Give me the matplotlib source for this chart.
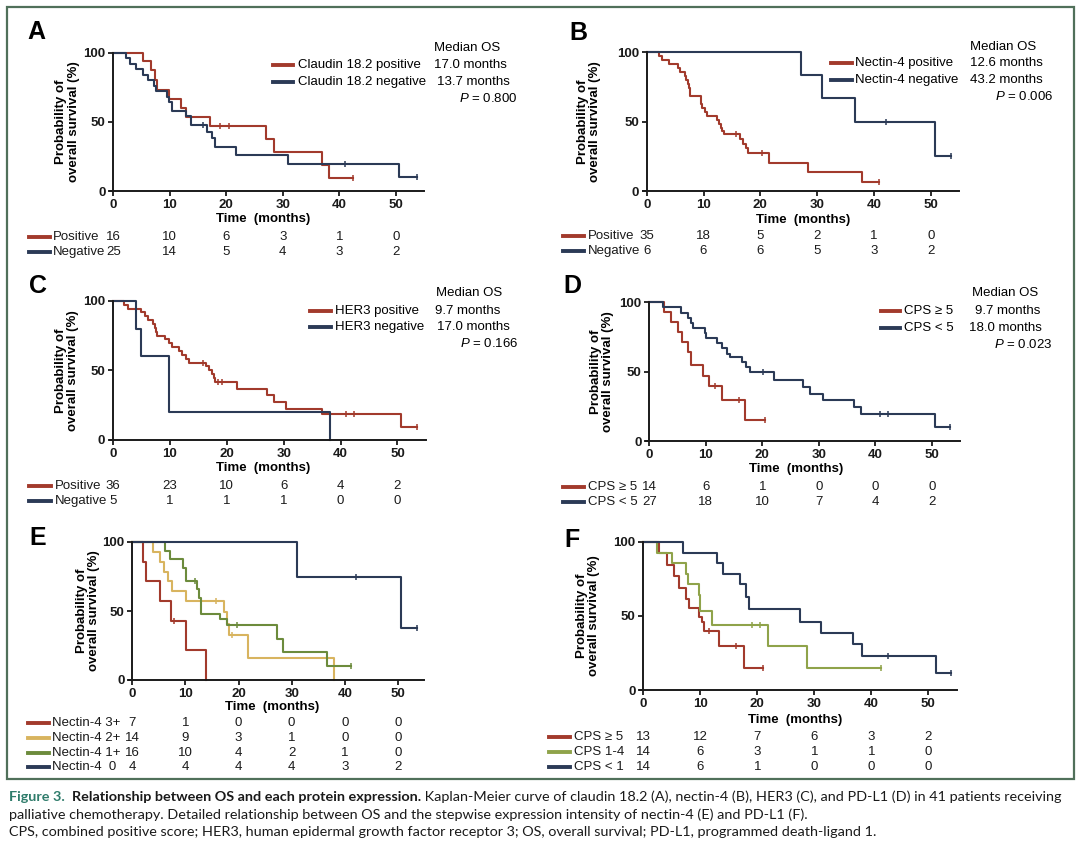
import numpy as np
import matplotlib
matplotlib.use("Agg")
import matplotlib.pyplot as plt
import matplotlib.transforms as mtransforms
from matplotlib.patches import Rectangle

plt.rcParams["font.family"] = ["Liberation Sans", "DejaVu Sans"]
plt.rcParams["mathtext.fontset"] = "custom"
plt.rcParams["mathtext.it"] = "Liberation Sans:italic"
plt.rcParams["mathtext.rm"] = "Liberation Sans"

RED = "#a23a2c"
BLUE = "#2b3a56"
YELLOW = "#d8b45f"
GREEN_E = "#6c8b3c"
GREEN_F = "#8fa34a"
FRAME = "#50705a"
TEAL = "#2f7c6b"

# ---- data (time in months, survival in %) ----
risk_times = [0, 10, 20, 30, 40, 50]

# A: claudin 18.2
a_pos_t = [5.2, 6.6, 7.3, 7.8, 9.8, 11.9, 12.8, 17.2, 27.1, 28.4, 36.9, 38.1]
a_pos_s = [93.8, 87.5, 80.0, 73.3, 66.7, 60.0, 53.3, 46.7, 37.3, 28.0, 18.7, 9.3]
a_pos_end = 42.4
a_pos_cens = [18.9, 20.4, 42.4]
a_neg_t = [2.3, 2.9, 4.0, 5.2, 6.2, 7.2, 7.5, 9.5, 9.8, 10.4, 12.8, 13.7, 16.6, 17.5, 18.0, 21.8, 31.0, 50.6]
a_neg_s = [96, 92, 88, 84, 80, 76, 72, 68, 64, 58, 54, 48, 43, 38, 32, 26, 19.6, 9.8]
a_neg_end = 53.7
a_neg_cens = [15.9, 41.0, 53.7]
a_risk = [[16, 10, 6, 3, 1, 0], [25, 14, 5, 4, 3, 2]]

# B: nectin-4
b_pos_t = [2.1, 2.7, 3.9, 5.5, 5.9, 6.7, 7.0, 7.3, 7.5, 7.6, 7.7, 9.6, 9.7, 10.3, 10.6, 12.3, 12.7,
           13.0, 13.3, 13.6, 16.5, 17.0, 17.5, 17.9, 21.5, 28.4, 37.9]
b_pos_s = [97.1, 94.3, 91.4, 88.6, 85.7, 82.9, 80.0, 77.1, 74.3, 71.4, 68.6, 62.9, 60.0, 57.1, 54.3,
           51.4, 48.6, 45.7, 42.9, 40.9, 37.5, 34.1, 30.7, 27.3, 20.4, 13.6, 6.8]
b_pos_end = 40.9
b_pos_cens = [15.8, 20.3, 40.9]
b_neg_t = [27.1, 30.9, 36.7, 50.8]
b_neg_s = [83.3, 66.7, 50.0, 25.0]
b_neg_end = 53.5
b_neg_cens = [42.1, 53.5]
b_risk = [[35, 18, 5, 2, 1, 0], [6, 6, 6, 5, 3, 2]]

# C: HER3
c_pos_t = [1.9, 2.7, 5.0, 5.6, 6.2, 7.0, 7.3, 7.5, 7.7, 9.2, 9.8, 10.4, 11.6, 12.2, 12.8, 13.4, 16.3,
           16.8, 17.4, 17.7, 18.0, 21.8, 27.1, 28.3, 30.4, 36.8, 50.7]
c_pos_s = [97.2, 94.4, 91.7, 88.9, 86.1, 83.3, 80.6, 77.8, 75.0, 72.2, 69.4, 66.7, 63.9, 61.1, 58.3,
           55.6, 52.8, 50.0, 47.2, 44.4, 41.7, 36.9, 32.1, 27.4, 22.6, 18.8, 9.4]
c_pos_end = 53.5
c_pos_cens = [15.9, 18.4, 19.2, 41.0, 42.4, 53.5]
c_neg_t = [4.1, 5.0, 9.8, 38.1]
c_neg_s = [80, 60, 20, 0]
c_neg_end = 38.1
c_neg_cens = []
c_risk = [[36, 23, 10, 6, 4, 2], [5, 1, 1, 1, 0, 0]]

# D: PD-L1 (CPS 5 cut-off)
d_hi_t = [2.6, 3.8, 5.0, 5.7, 6.8, 7.4, 9.5, 10.5, 12.9, 17.0]
d_hi_s = [92.9, 85.7, 78.6, 71.4, 64.3, 55.0, 47.1, 39.3, 29.5, 14.8]
d_hi_end = 20.5
d_hi_cens = [11.7, 15.9, 20.5]
d_lo_t = [2.5, 5.6, 6.8, 7.4, 7.7, 9.8, 10.0, 12.0, 12.9, 13.8, 14.3, 16.4, 17.2, 17.8, 22.0, 27.2,
          28.4, 30.7, 36.3, 37.5, 50.6]
d_lo_s = [96.3, 92.6, 88.9, 85.2, 81.5, 77.8, 74.1, 70.4, 66.7, 63.0, 60.6, 56.9, 53.2, 49.5, 44.3,
          39.1, 33.9, 29.5, 24.6, 19.7, 9.8]
d_lo_end = 53.3
d_lo_cens = [20.2, 40.9, 42.2, 53.3]
d_risk = [[14, 6, 1, 0, 0, 0], [27, 18, 10, 7, 4, 2]]

# E: nectin-4 intensity
e_3_t = [2.1, 2.6, 5.2, 7.3, 10.1, 13.8]
e_3_s = [85.7, 71.4, 57.1, 42.9, 21.4, 0]
e_3_end = 13.8
e_3_cens = [7.9]
e_2_t = [3.9, 5.2, 6.0, 6.8, 7.5, 10.1, 17.2, 17.9, 18.2, 21.8, 38.0]
e_2_s = [92.9, 85.7, 78.6, 71.4, 64.3, 57.1, 49.0, 40.8, 32.7, 16.3, 0]
e_2_end = 38.0
e_2_cens = [15.7, 18.8]
e_1_t = [6.2, 7.1, 9.6, 10.1, 12.2, 12.6, 13.0, 16.6, 17.9, 27.3, 28.4, 36.7]
e_1_s = [93.8, 87.5, 81.3, 71.9, 65.6, 59.4, 48.0, 44.0, 40.0, 30.0, 20.0, 10.0]
e_1_end = 41.1
e_1_cens = [11.9, 19.8, 41.1]
e_0_t = [31.0, 50.6]
e_0_s = [75.0, 37.5]
e_0_end = 53.6
e_0_cens = [42.2, 53.6]
e_risk = [[7, 1, 0, 0, 0, 0], [14, 9, 3, 1, 0, 0], [16, 10, 4, 2, 1, 0], [4, 4, 4, 4, 3, 2]]

# F: PD-L1 three groups
f_hi_t = [2.7, 4.2, 5.4, 6.3, 7.5, 8.0, 9.8, 10.3, 10.6, 13.3, 17.7]
f_hi_s = [92.3, 84.6, 76.9, 69.2, 61.5, 55.4, 49.2, 46.2, 40.0, 30.0, 15.0]
f_hi_end = 21.0
f_hi_cens = [11.6, 16.3, 21.0]
f_mid_t = [2.4, 5.1, 7.5, 7.9, 9.8, 10.0, 12.1, 21.9, 28.7]
f_mid_s = [92.9, 85.7, 78.6, 71.4, 64.3, 53.6, 44.2, 29.5, 14.7]
f_mid_end = 41.7
f_mid_cens = [19.0, 20.5, 41.7]
f_lo_t = [7.0, 13.0, 13.9, 16.9, 18.1, 18.5, 27.5, 31.1, 36.8, 38.3, 51.3]
f_lo_s = [92.9, 85.7, 78.6, 71.4, 63.0, 54.7, 46.2, 38.3, 30.8, 23.0, 11.5]
f_lo_end = 54.0
f_lo_cens = [42.9, 54.0]
f_risk = [[13, 12, 7, 6, 3, 2], [14, 6, 3, 1, 1, 0], [14, 6, 1, 0, 0, 0]]

W, H = 1080, 847
FS = 9.5

fig = plt.figure(figsize=(W / 100, H / 100), dpi=100)


def fx(px):
    return px / W


def fy(py):
    return 1 - py / H


def make_axes(x0, s10, ytop, ybot):
    # x0: pixel of month 0, s10: pixels per 10 months
    left = x0 - 0.06 * s10
    right = x0 + 5.5 * s10
    ax = fig.add_axes([fx(left), fy(ybot), (right - left) / W, (ybot - ytop) / H])
    ax.set_xlim(-0.6, 55)
    ax.set_ylim(0, 100)
    ax.patch.set_alpha(0)
    for s in ["top", "right"]:
        ax.spines[s].set_visible(False)
    ax.spines["left"].set_position(("data", 0))
    for s in ["left", "bottom"]:
        ax.spines[s].set_linewidth(1.4)
        ax.spines[s].set_color("#1a1a1a")
    ax.set_xticks(risk_times)
    ax.set_yticks([0, 50, 100])
    ax.tick_params(direction="out", length=3.5, width=1.3, pad=2, labelsize=FS, colors="#1a1a1a")
    for lab in ax.get_xticklabels() + ax.get_yticklabels():
        lab.set_fontweight("bold")
    return ax


def surv_at(t, times, surv):
    s = 100
    for ti, si in zip(times, surv):
        if t >= ti:
            s = si
    return s


def km(ax, times, surv, end, cens, color):
    xs = [0] + times + [end]
    ys = [100] + surv + [surv[-1]]
    ax.step(xs, ys, where="post", color=color, lw=1.5, clip_on=False)
    for c in cens:
        ax.plot(c, surv_at(c, times, surv), marker="|", ms=4.5, mew=1.1, color=color, clip_on=False)


def labels(ax, letter, lx, ly, ylab_x, xlab_x, xlab_y):
    fig.text(fx(lx), fy(ly), letter, fontsize=18, fontweight="bold", va="baseline", ha="left")
    yc = (ax.get_position().y0 + ax.get_position().y1) / 2
    fig.text(fx(ylab_x), yc, "Probability of\noverall survival (%)", rotation=90, ha="center",
             va="center", multialignment="center", fontsize=FS, fontweight="bold", linespacing=1.05)
    fig.text(fx(xlab_x), fy(xlab_y), "Time  (months)", ha="center", va="center",
             fontsize=FS, fontweight="bold")


def legend(names, colors, months, median_x, month_xs, line_x0, line_x1, text_x, rows_y, head_y, p_text, p_x, p_y):
    fig.text(fx(median_x), fy(head_y), "Median OS", fontsize=FS, va="center")
    for name, col, m, mx, ry in zip(names, colors, months, month_xs, rows_y):
        fig.add_artist(plt.Line2D([fx(line_x0), fx(line_x1)], [fy(ry), fy(ry)], color=col, lw=2.8,
                                  transform=fig.transFigure))
        fig.text(fx(text_x), fy(ry), name, fontsize=FS, va="center")
        fig.text(fx(mx), fy(ry), m, fontsize=FS, va="center")
    fig.text(fx(p_x), fy(p_y), p_text, fontsize=FS, va="center", ha="right")


def risk_table(ax, names, colors, counts, rows_y, line_x0, line_x1, text_x):
    tr = mtransforms.blended_transform_factory(ax.transData, fig.transFigure)
    for name, col, row, ry in zip(names, colors, counts, rows_y):
        fig.add_artist(plt.Line2D([fx(line_x0), fx(line_x1)], [fy(ry), fy(ry)], color=col, lw=2.8,
                                  transform=fig.transFigure))
        fig.text(fx(text_x), fy(ry), name, fontsize=FS, va="center", color="#1a1a1a")
        for t, n in zip(risk_times, row):
            ax.text(t, fy(ry), str(n), transform=tr, ha="center", va="center", fontsize=FS,
                    color="#1a1a1a", clip_on=False)


# ---- panel A ----
ax = make_axes(113.3, 56.5, 52.7, 191)
km(ax, a_pos_t, a_pos_s, a_pos_end, a_pos_cens, RED)
km(ax, a_neg_t, a_neg_s, a_neg_end, a_neg_cens, BLUE)
labels(ax, "A", 27, 39, 67.5, 263, 219)
legend(["Claudin 18.2 positive", "Claudin 18.2 negative"], [RED, BLUE], ["17.0 months", "13.7 months"],
       434, [434, 436.6], 273, 293, 298, [65, 81.7], 47.7, r"$\it{P}$ = 0.800", 518, 98)
risk_table(ax, ["Positive", "Negative"], [RED, BLUE], a_risk, [236.7, 251.7], 29, 50, 53)

# ---- panel B ----
ax = make_axes(646.7, 56.8, 52.3, 191)
km(ax, b_pos_t, b_pos_s, b_pos_end, b_pos_cens, RED)
km(ax, b_neg_t, b_neg_s, b_neg_end, b_neg_cens, BLUE)
labels(ax, "B", 569, 40, 589, 803, 220)
legend(["Nectin-4 positive", "Nectin-4 negative"], [RED, BLUE], ["12.6 months", "43.2 months"],
       969.7, [969.7, 969.7], 831, 851.6, 855.4, [63.3, 80], 47.3, r"$\it{P}$ = 0.006", 1053, 96.7)
risk_table(ax, ["Positive", "Negative"], [RED, BLUE], b_risk, [235.7, 250.7], 563.4, 584, 588)

# ---- panel C ----
ax = make_axes(113, 56.9, 300.7, 440)
km(ax, c_pos_t, c_pos_s, c_pos_end, c_pos_cens, RED)
km(ax, c_neg_t, c_neg_s, c_neg_end, c_neg_cens, BLUE)
labels(ax, "C", 29, 293, 67, 263, 468.3)
legend(["HER3 positive", "HER3 negative"], [RED, BLUE], ["9.7 months", "17.0 months"],
       435.6, [434.6, 437.3], 310, 330.6, 334.7, [310.7, 327.3], 293.3, r"$\it{P}$ = 0.166", 518.2, 343.3)
risk_table(ax, ["Positive", "Negative"], [RED, BLUE], c_risk, [486, 500.7], 29.3, 51, 55)

# ---- panel D ----
ax = make_axes(649.3, 56.5, 302.3, 441)
km(ax, d_hi_t, d_hi_s, d_hi_end, d_hi_cens, RED)
km(ax, d_lo_t, d_lo_s, d_lo_end, d_lo_cens, BLUE)
labels(ax, "D", 563.4, 292.7, 602, 796.5, 469.3)
legend(["CPS \u2265 5", "CPS < 5"], [RED, BLUE], ["9.7 months", "18.0 months"],
       972.2, [974.6, 968.7], 881, 899.8, 904.3, [311.3, 328], 293.3, r"$\it{P}$ = 0.023", 1053, 344)
risk_table(ax, ["CPS \u2265 5", "CPS < 5"], [RED, BLUE], d_risk, [486.7, 501.7], 563.4, 584, 587.5)

# ---- panel E ----
ax = make_axes(132.3, 53.1, 542, 680)
km(ax, e_3_t, e_3_s, e_3_end, e_3_cens, RED)
km(ax, e_2_t, e_2_s, e_2_end, e_2_cens, YELLOW)
km(ax, e_1_t, e_1_s, e_1_end, e_1_cens, GREEN_E)
km(ax, e_0_t, e_0_s, e_0_end, e_0_cens, BLUE)
labels(ax, "E", 29.3, 545, 88, 272, 707.3)
risk_table(ax, ["Nectin-4 3+", "Nectin-4 2+", "Nectin-4 1+", "Nectin-4  0"],
           [RED, YELLOW, GREEN_E, BLUE], e_risk, [723.3, 738.3, 753.3, 767.3], 28.2, 49, 52.3)

# ---- panel F ----
ax = make_axes(643.3, 57.0, 542, 690)
km(ax, f_hi_t, f_hi_s, f_hi_end, f_hi_cens, RED)
km(ax, f_mid_t, f_mid_s, f_mid_end, f_mid_cens, GREEN_F)
km(ax, f_lo_t, f_lo_s, f_lo_end, f_lo_cens, BLUE)
labels(ax, "F", 564, 546.7, 588, 794.8, 720)
risk_table(ax, ["CPS \u2265 5", "CPS 1-4", "CPS < 1"], [RED, GREEN_F, BLUE], f_risk,
           [736.7, 752.3, 767.3], 548.6, 570.3, 574.4)

# frame round the panels
fig.patches.append(Rectangle((fx(7), fy(779)), (1074 - 7) / W, (779 - 7) / H, fill=False,
                             ec=FRAME, lw=1.6, transform=fig.transFigure))

# ---- caption ----
CAP_FONT = ["Lato", "DejaVu Sans"]
CAP_FS = 10.4
renderer = fig.canvas.get_renderer()


def caption_line(pieces, x, y):
    for s, kw in pieces:
        t = fig.text(fx(x), fy(y), s, va="center", ha="left", family=CAP_FONT, fontsize=CAP_FS, **kw)
        x += t.get_window_extent(renderer).width


caption_line([("Figure 3.", dict(color=TEAL, fontweight="bold")),
              ("  Relationship between OS and each protein expression.", dict(fontweight="bold", color="#1a1a1a")),
              (" Kaplan-Meier curve of claudin 18.2 (A), nectin-4 (B), HER3 (C), and PD-L1 (D) in 41 patients receiving",
               dict(color="#1a1a1a"))], 9, 796.7)
caption_line([("palliative chemotherapy. Detailed relationship between OS and the stepwise expression intensity "
               "of nectin-4 (E) and PD-L1 (F).", dict(color="#1a1a1a"))], 9, 814.5)
caption_line([("CPS, combined positive score; HER3, human epidermal growth factor receptor 3; OS, overall survival; "
               "PD-L1, programmed death-ligand 1.", dict(color="#1a1a1a"))], 9, 832.2)

fig.savefig("out.png", dpi=100)
